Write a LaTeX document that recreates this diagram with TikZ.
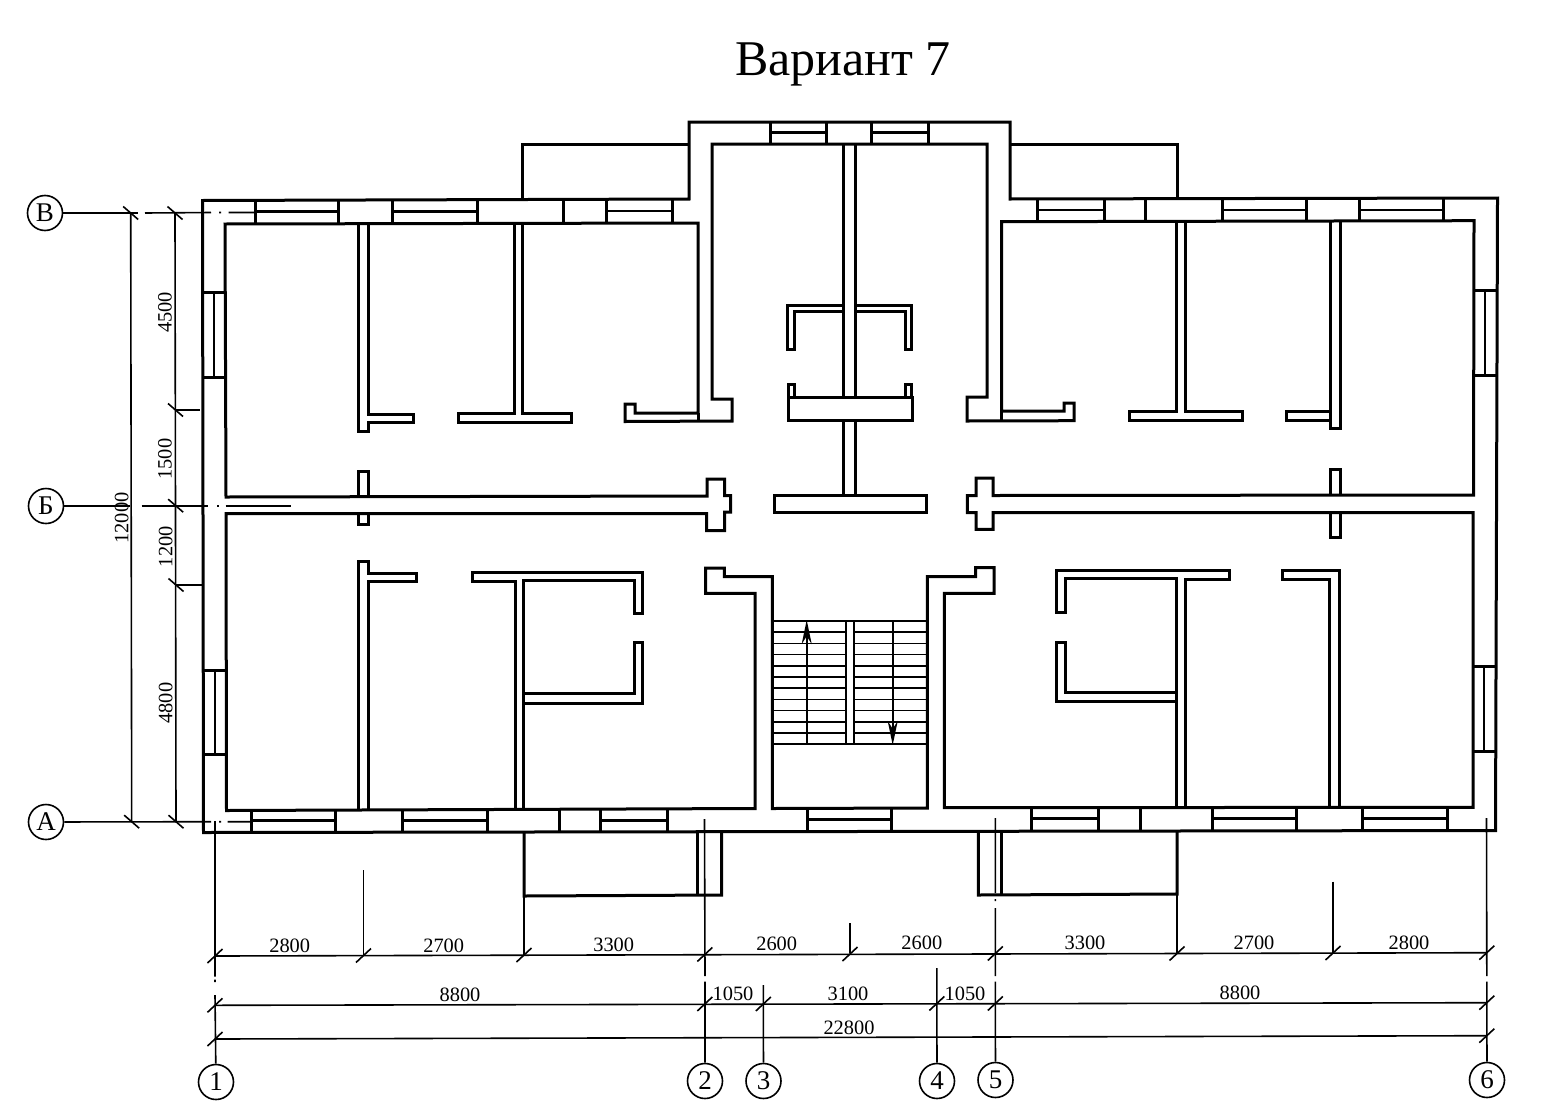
\documentclass[tikz,border=0pt]{standalone}
\usepackage{fontspec}
\setmainfont{Liberation Serif}
\usetikzlibrary{arrows.meta}
\tikzset{
  wall/.style={line width=1.5pt,line join=miter},
  glass/.style={line width=1.25pt},
  fine/.style={line width=0.8pt},
  stair/.style={line width=0.85pt},
  bubble/.style={circle,draw,line width=0.8pt,minimum size=17.5pt,inner sep=0pt,font=\fontsize{13.5}{13.5}\selectfont},
  dimtext/.style={inner sep=0pt,font=\fontsize{10.2}{10.2}\selectfont},
  dimtextv/.style={inner sep=0pt,rotate=90,font=\fontsize{10.2}{10.2}\selectfont},
}
\newcommand{\hwin}[5]{\draw[wall] (#1,#3) -- (#1,#4) (#2,#3) -- (#2,#4); \draw[glass] (#1,#5) -- (#2,#5);}
\newcommand{\vwin}[5]{\draw[wall] (#3,#1) -- (#4,#1) (#3,#2) -- (#4,#2); \draw[glass] (#5,#1) -- (#5,#2);}
\newcommand{\ticku}[2]{\draw[fine] ({#1-7.5},{#2+7}) -- ({#1+7.5},{#2-7});}
\newcommand{\tickv}[2]{\draw[fine] ({#1-7.5},{#2-6.5}) -- ({#1+7.5},{#2+6.5});}
\begin{document}
\begin{tikzpicture}[x=0.5pt,y=-0.5pt]
\useasboundingbox (0,0) rectangle (1557,1119);
\fill[white] (0,0) rectangle (1557,1119);

\node[inner sep=0pt,font=\fontsize{25}{25}\selectfont] (title) at (843,64) {Вариант 7};

% outer contour and balconies
\draw[wall] (202.5,200.5) -- (689,199) -- (689,122) -- (1010,122) -- (1010,199) -- (1497.5,198) -- (1495.5,830.5) -- (203.5,832.5) -- cycle;
\draw[wall] (522,200) -- (522,144) -- (689,144);
\draw[wall] (1010,144) -- (1177,144) -- (1177,198.5);
\draw[wall] (524,832) -- (524,896) -- (721.7,895) -- (721.7,832);
\draw[wall] (697.5,832) -- (697.5,895);
\draw[wall] (978.3,831) -- (978.3,895) -- (1177,894) -- (1177,831);
\draw[wall] (1001,831) -- (1001,895);

% inner contour of the load-bearing walls
\draw[wall] (225,224) -- (226,497) -- (707,496) -- (707,479) -- (724.6,479) -- (724.6,495.5) -- (730.5,495.5) -- (730.5,512) -- (724.6,512) -- (724.6,530.5) -- (706.5,530.5) -- (706.5,513.5) -- (226,513.5) -- (226.5,810.5) -- (755,808.5) -- (755,593.3) -- (705.7,593.3) -- (705.7,568) -- (724.3,568) -- (724.3,576.7) -- (772.3,576.7) -- (772.3,808.5) -- (927.3,808) -- (927.3,576.7) -- (975.7,576.7) -- (975.7,567.7) -- (994,567.7) -- (994,593.3) -- (944.3,593.3) -- (944.3,807.7) -- (1473,807.3) -- (1473,512.7) -- (993,512.7) -- (993,529.3) -- (976,529.3) -- (976,512.7) -- (967.3,512.7) -- (967.3,495.7) -- (976,495.7) -- (976,478) -- (993,478) -- (993,495.5) -- (1473.5,495) -- (1474,220.7) -- (1001.7,221.7) -- (1001.7,411) -- (1064,411) -- (1064,403) -- (1074,403) -- (1074,420.7) -- (967,421) -- (967,397) -- (987,397) -- (987,144) -- (712,144) -- (712,399) -- (732,399) -- (732,421) -- (625,421.5) -- (625,404) -- (635,404) -- (635,413) -- (698,413) -- (698,223) -- cycle;
\draw[wall] (698,413) -- (698,421.5);
\draw[wall] (1001.7,411) -- (1001.7,421);

% windows, north side
\hwin{255.4}{338.6}{200.5}{224}{211.7}
\hwin{392.5}{477.5}{200}{224}{211.7}
\draw[wall] (563.6,200) -- (563.6,223.5);
\hwin{606.4}{672}{199.5}{223.5}{211}
\hwin{770.7}{826.7}{122}{144}{132.7}
\hwin{871.7}{928}{122}{144}{132.7}
\hwin{1037.7}{1104}{199}{221.5}{210}
\draw[wall] (1145.7,198.5) -- (1145.7,221);
\hwin{1222}{1306}{198.5}{221}{210}
\hwin{1359}{1443}{198.5}{221}{210}

% windows, south side
\hwin{251.4}{335.4}{810.5}{832.5}{820.7}
\hwin{402.5}{487}{810}{832.5}{820.7}
\draw[wall] (559.6,809.5) -- (559.6,832);
\hwin{600.7}{667}{809.5}{832}{820.7}
\hwin{807.7}{891.7}{808}{831}{819.3}
\hwin{1031.7}{1098.3}{807.5}{830.5}{818.3}
\draw[wall] (1140,807.5) -- (1140,830.5);
\hwin{1212.3}{1296}{807.5}{830.5}{818.3}
\hwin{1362.7}{1447.3}{807.5}{830.5}{818.3}

% windows, end walls
\vwin{292.7}{377.3}{202.5}{225}{214}
\vwin{670.7}{754}{203}{226}{215}
\vwin{290}{375}{1474}{1497}{1485}
\vwin{666.7}{751.7}{1473}{1495}{1484}

% partitions, north rooms
\draw[wall] (358.6,224) -- (358.6,431.7) -- (368.4,431.7) -- (368.4,422.7) -- (413,422.7) -- (413,414) -- (368.4,414) -- (368.4,224);
\draw[wall] (514,224) -- (514,413) -- (458,413) -- (458,422) -- (571,422) -- (571,413) -- (522,413) -- (522,224);
\draw[wall] (1176.7,221) -- (1176.7,411) -- (1129,411) -- (1129,420.7) -- (1242,420.7) -- (1242,411) -- (1185.7,411) -- (1185.7,221);
\draw[wall] (1330.7,221) -- (1330.7,411) -- (1286,411) -- (1286,420.7) -- (1330.7,420.7) -- (1330.7,428) -- (1340,428) -- (1340,221);
\draw[wall] (1330.7,411) -- (1330.7,420.7);

% central part
\draw[wall] (843,144) -- (843,397) (855,144) -- (855,397);
\draw[wall] (843,305.7) -- (787.7,305.7) -- (787.7,349) -- (794,349) -- (794,311) -- (843,311);
\draw[wall] (855,305.7) -- (911.7,305.7) -- (911.7,349) -- (905,349) -- (905,311) -- (855,311);
\draw[wall] (788,397) rectangle (912,420.7);
\draw[wall] (788,397) -- (788,384) -- (794,384) -- (794,397);
\draw[wall] (905,397) -- (905,384) -- (911.7,384) -- (911.7,397);
\draw[wall] (843,421) -- (843,495) (855,421) -- (855,495);
\draw[wall] (774,495) rectangle (926,512.7);

% stubs on the corridor walls
\draw[wall] (358.6,497) -- (358.6,471.7) -- (368.6,471.7) -- (368.6,497);
\draw[wall] (358.6,513.5) -- (358.6,524) -- (368.6,524) -- (368.6,513.5);
\draw[wall] (1330,495) -- (1330,469.3) -- (1340,469.3) -- (1340,495);
\draw[wall] (1330,512.7) -- (1330,537.7) -- (1340,537.7) -- (1340,512.7);

% partitions, south rooms
\draw[wall] (358.6,810) -- (358.6,561.7) -- (368.6,561.7) -- (368.6,573) -- (416.8,573) -- (416.8,581.7) -- (368.6,581.7) -- (368.6,810);
\draw[wall] (515,810) -- (515,581.7) -- (472,581.7) -- (472,572.3) -- (642.9,572.3) -- (642.9,613.3) -- (634,613.3) -- (634,580.7) -- (523,580.7) -- (523,810);
\draw[wall] (523,693.3) -- (634,693.3) -- (634,642.7) -- (642.9,642.7) -- (642.9,703.3) -- (523,703.3);
\draw[wall] (1176.7,807) -- (1176.7,578.5) -- (1065,578.5) -- (1065,612.7) -- (1056.7,612.7) -- (1056.7,570) -- (1229,570) -- (1229,579.3) -- (1185,579.3) -- (1185,807);
\draw[wall] (1176,692.3) -- (1065,692.3) -- (1065,642.3) -- (1056.7,642.3) -- (1056.7,701.7) -- (1176,701.7);
\draw[wall] (1329.3,807) -- (1329.3,579.3) -- (1282.7,579.3) -- (1282.7,570) -- (1339.3,570) -- (1339.3,807);

% stair
\foreach \yy in {621,632.2,643.4,654.6,665.8,677,688.2,699.4,710.6,721.8,733,744}{
  \draw[stair] (772.3,\yy) -- (845.7,\yy) (854,\yy) -- (927.3,\yy);
}
\draw[stair] (845.7,621) rectangle (854,744);
\draw[stair,-{Stealth[length=12pt,width=5pt]}] (806.7,744) -- (806.7,620);
\draw[stair,-{Stealth[length=12pt,width=5pt]}] (892.7,621) -- (892.7,745);

% grid bubbles
\node[bubble] (bV) at (45,213) {В};
\node[bubble] (bB) at (46,506) {Б};
\node[bubble] (bA) at (46,822) {А};
\node[bubble] (n1) at (216,1082) {1};
\node[bubble] (n2) at (705,1081) {2};
\node[bubble] (n3) at (763.5,1081) {3};
\node[bubble] (n4) at (937,1081) {4};
\node[bubble] (n5) at (995.5,1080) {5};
\node[bubble] (n6) at (1487,1080) {6};

% horizontal axes
\draw[fine] (bV) -- (138,213);
\draw[fine] (145,213) -- (211,212.5) (219,212.5) -- (221,212.5) (228.6,212.5) -- (255,212.5);
\draw[fine] (bB) -- (130,506) (141.7,506) -- (208,506) (217,506) -- (219,506) (225.7,506) -- (291,506);
\draw[fine] (bA) -- (211,821.7) (219,821.7) -- (221,821.7) (227.5,821.7) -- (251,821.7);

% vertical axes
\draw[fine] (n1) -- (215,995) (215,982) -- (215,979.5) (215,976.7) -- (215,821);
\draw[fine] (n2) -- (705,981.7) (705,976) -- (704.5,819);
\draw[fine] (n3) -- (763.3,985);
\draw[fine] (n4) -- (936.8,968);
\draw[fine] (n5) -- (995.3,981.7) (995.3,976) -- (995.3,908) (995.3,901) -- (995.3,899) (995.3,893) -- (995.3,818);
\draw[fine] (n6) -- (1486.8,981.7) (1486.8,976) -- (1486.5,818);
\draw[fine] (363.5,870) -- (363.5,956);
\draw[fine] (524,896) -- (524,955);
\draw[fine] (850,923) -- (850,953);
\draw[fine] (1177,894) -- (1177,953);
\draw[fine] (1333,881.7) -- (1333,953);

% horizontal dimension lines
\draw[fine] (215,956) -- (1486.8,952.7);
\draw[fine] (215,1005.3) -- (1486.8,1002.7);
\draw[fine] (215,1039) -- (1486.8,1035.7);
\ticku{215}{956}\ticku{363.5}{955.5}\ticku{524}{955}\ticku{704.8}{954.5}\ticku{850}{954}\ticku{995.3}{953.5}\ticku{1177}{953.5}\ticku{1333}{953}\ticku{1486.8}{952.7}
\ticku{215}{1005.3}\ticku{704.8}{1004}\ticku{763.3}{1004}\ticku{936.8}{1003.5}\ticku{995.3}{1003.5}\ticku{1486.8}{1002.7}
\ticku{215}{1039}\ticku{1486.8}{1035.7}

% vertical dimension lines
\draw[fine] (130.7,213) -- (131.7,822);
\draw[fine] (175,213) -- (176,822);
\draw[fine] (175.5,410) -- (200,410);
\draw[fine] (176,585) -- (203,585);
\tickv{130.7}{213}\tickv{131.7}{821.7}
\tickv{175}{213}\tickv{175.5}{410}\tickv{175.7}{505.7}\tickv{176}{585}\tickv{176}{821.7}

% dimension texts
\node[dimtext] (d01) at (289.7,946) {2800};
\node[dimtext] (d02) at (443.7,946) {2700};
\node[dimtext] (d03) at (613.7,945) {3300};
\node[dimtext] (d04) at (776.7,944) {2600};
\node[dimtext] (d05) at (921.8,943) {2600};
\node[dimtext] (d06) at (1085,943) {3300};
\node[dimtext] (d07) at (1254,943) {2700};
\node[dimtext] (d08) at (1409,943) {2800};
\node[dimtext] (d09) at (460,995) {8800};
\node[dimtext] (d10) at (733,994) {1050};
\node[dimtext] (d11) at (848,994) {3100};
\node[dimtext] (d12) at (965,994) {1050};
\node[dimtext] (d13) at (1240,993) {8800};
\node[dimtext] (d14) at (849,1028) {22800};
\node[dimtextv] (d15) at (165,312.3) {4500};
\node[dimtextv] (d16) at (165,459) {1500};
\node[dimtextv] (d17) at (165.7,546.7) {1200};
\node[dimtextv] (d18) at (165.7,703) {4800};
\node[dimtextv] (d19) at (121.7,518) {12000};
\end{tikzpicture}
\end{document}
